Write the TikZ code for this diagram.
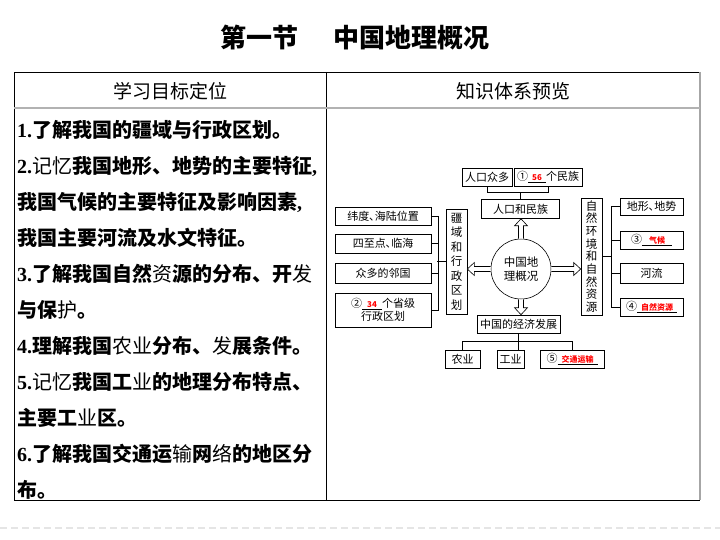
\documentclass[tikz,border=0pt]{standalone}
\usepackage{fontspec}
\setmainfont{Liberation Serif}
\newfontfamily\cjk{Noto Sans CJK SC}
\usetikzlibrary{calc,positioning}

\tikzset{
  box/.style={draw, line width=0.6pt, inner sep=1pt, minimum height=18pt, font=\cjk\fontsize{11}{13}\selectfont},
  vbox/.style={draw, line width=0.6pt, inner sep=1pt, align=center},
  goal/.style={anchor=west, inner sep=0pt, font=\cjk\bfseries\fontsize{20}{22}\selectfont},
  head/.style={font=\cjk\fontsize{19}{22}\selectfont},
  link/.style={line width=0.5pt},
  hollow/.style={line width=0.6pt, fill=white, line join=miter},
}
\newcommand{\itemno}[1]{{\rmfamily\bfseries #1}}
\newcommand{\fillin}[2]{\underline{\makebox[#1]{\textcolor{red}{\bfseries\fontsize{8}{9}\selectfont #2}}}}
% hollow block arrow: start, tip, back direction (x,y)
\newcommand{\hollowarrow}[4]{%
  \draw[hollow] ($(#1)+({(#4)*2.5},{(#3)*2.5})$)
    -- ($(#2)+({(#3)*7+(#4)*2.5},{(#4)*7+(#3)*2.5})$)
    -- ($(#2)+({(#3)*7+(#4)*6.5},{(#4)*7+(#3)*6.5})$)
    -- (#2)
    -- ($(#2)+({(#3)*7-(#4)*6.5},{(#4)*7-(#3)*6.5})$)
    -- ($(#2)+({(#3)*7-(#4)*2.5},{(#4)*7-(#3)*2.5})$)
    -- ($(#1)+({-(#4)*2.5},{-(#3)*2.5})$);}

\begin{document}
\begin{tikzpicture}[x=1pt, y=-1pt]
    \useasboundingbox (0,0) rectangle (720,540);

    % Title
    \node (title) at (355,38) {\cjk\bfseries\fontsize{26}{30}\selectfont 第一节\hspace{36pt}中国地理概况};

    % Table
    \draw[line width=0.8pt] (700,72) -- (14,72) -- (14,500) -- (700,500);
    \draw[gray!70, line width=1.2pt] (700,72) -- (700,500);
    \draw[line width=0.8pt] (326,72) -- (326,500);
    \draw[gray!60, line width=2pt] (14,108) -- (700,108);
    \node[head] (hl) at (170,91) {学习目标定位};
    \node[head] (hr) at (513,91) {知识体系预览};

    % Goals
    \foreach \t [count=\i] in {
        {\itemno{1.}了解我国的疆域与行政区划。},
        {\itemno{2.}{\mdseries 记忆}我国地形、地势的主要特征\itemno{,}},
        {我国气候的主要特征及影响因素\itemno{,}},
        {我国主要河流及水文特征。},
        {\itemno{3.}了解我国自然{\mdseries 资}源的分布、开{\mdseries 发}},
        {与保{\mdseries 护}。},
        {\itemno{4.}理解我国{\mdseries 农业}分布、{\mdseries 发}展条件。},
        {\itemno{5.}{\mdseries 记忆}我国工{\mdseries 业}的地理分布特点、},
        {主要工{\mdseries 业}区。},
        {\itemno{6.}了解我国交通运{\mdseries 输}网{\mdseries 络}的地区分},
        {布。}}
        \node[goal] (g\i) at (17,94+36*\i) {\t};

    % Centre
    \node[circle, draw, line width=0.6pt, minimum size=60pt, align=center, font=\cjk\fontsize{11.5}{14}\selectfont] (c) at (521,269) {中国地\\理概况};

    % Population
    \node[box, minimum width=78pt, minimum height=19pt] (rk) at (520.5,209) {人口和民族};
    \node[box, minimum width=50pt] (pop) at (487,177) {人口众多};
    \node[box, minimum width=68pt] (eth) at (548,177) {①\fillin{18pt}{56}个民族};
    \draw[link] (pop.south) -- ++(0,6) -| (eth.south);
    \draw[link] (rk.north) -- ++(0,-7);

    % Territory
    \node[vbox, minimum width=21pt, minimum height=105pt, font=\cjk\fontsize{11.5}{14.5}\selectfont] (jy) at (456.5,261.5) {疆\\域\\和\\行\\政\\区\\划};
    \node[box, minimum width=96pt] (lat) at (383,216) {纬度､海陆位置};
    \node[box, minimum width=96pt, minimum height=19pt] (pts) at (383,243.5) {四至点､临海};
    \node[box, minimum width=96pt, minimum height=20pt] (nbr) at (383,273) {众多的邻国};
    \node[box, minimum width=96pt, minimum height=34pt, align=center] (prov) at (383,310) {②\fillin{20pt}{34}个省级\\行政区划};
    \draw[link] (lat.east) -- ++(7,0) |- (prov.east);
    \draw[link] (pts.east) -- ++(7,0);
    \draw[link] (nbr.east) -- ++(7,0);
    \draw[link] (jy.west) -- ++(-8.5,0);

    % Natural environment
    \node[vbox, minimum width=21pt, minimum height=117pt, font=\cjk\fontsize{11.5}{12.7}\selectfont] (zr) at (591.5,256.5) {自\\然\\环\\境\\和\\自\\然\\资\\源};
    \node[box, minimum width=63pt, minimum height=17pt] (dx) at (651.5,206.5) {地形､地势};
    \node[box, minimum width=63pt] (qh) at (651.5,240) {③\fillin{30pt}{气候}};
    \node[box, minimum width=63pt, minimum height=20pt] (hlz) at (651.5,273) {河流};
    \node[box, minimum width=63pt] (zy) at (651.5,307) {④\fillin{40pt}{自然资源}};
    \draw[link] (dx.west) -- ++(-8,0) |- (zy.west);
    \draw[link] (qh.west) -- ++(-8,0);
    \draw[link] (hlz.west) -- ++(-8,0);
    \draw[link] (zr.east) -- ++(10,0);

    % Economy
    \node[box, minimum width=83pt] (jj) at (518.5,324) {中国的经济发展};
    \node[box, minimum width=35pt] (ny) at (462.5,359) {农业};
    \node[box, minimum width=27pt] (gy) at (510.5,359) {工业};
    \node[box, minimum width=64pt] (jt) at (572,359) {⑤\fillin{40pt}{交通运输}};
    \draw[link] (ny.north) -- ++(0,-8) -| (jt.north);
    \draw[link] (jj.south) -- (jj.south |- gy.north);

    % Hollow arrows
    \coordinate (tu) at (c.north |- rk.south);
    \coordinate (tl) at (c.west -| jy.east);
    \coordinate (tr) at (c.east -| zr.west);
    \coordinate (td) at (c.south |- jj.north);
    \hollowarrow{c.north}{tu}{0}{1}
    \hollowarrow{c.west}{tl}{1}{0}
    \hollowarrow{c.east}{tr}{-1}{0}
    \hollowarrow{c.south}{td}{0}{-1}

    % Footer
    \draw[gray!20, line width=2pt, dash pattern=on 7pt off 4pt] (0,528) -- (720,528);
\end{tikzpicture}
\end{document}
